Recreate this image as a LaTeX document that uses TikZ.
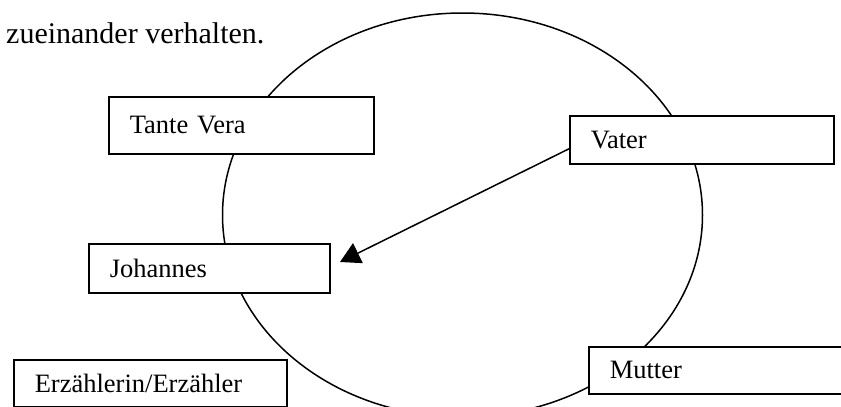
\documentclass[tikz,border=0pt]{standalone}
\usepackage{fontspec}
\setmainfont{Liberation Serif}
\usetikzlibrary{arrows.meta}
\tikzset{
  rolle/.style={draw, fill=white, line width=1.6pt, anchor=north west, inner xsep=21pt, inner ysep=0pt, align=left, font=\fontsize{26.5}{31}\selectfont},
}
\begin{document}
\begin{tikzpicture}[x=1pt,y=-1pt]
\useasboundingbox (0,0) rectangle (841,407);

%Shape: Ellipse
\draw [line width=1.5pt] (462.5,215) ellipse [x radius=240pt, y radius=202pt];

% Text Node
\node [anchor=base west, inner sep=0pt, font=\fontsize{30}{36}\selectfont] (satz) at (6,43) {zueinander verhalten.};
% Text Node
\node [rolle, text width=223pt, minimum height=57pt] (tante) at (108,96) {Tante Vera};
% Text Node
\node [rolle, text width=222pt, minimum height=48pt] (vater) at (569,115) {Vater};
% Text Node
\node [rolle, text width=199pt, minimum height=49pt] (johannes) at (88,243) {Johannes};
% Text Node
\node [rolle, text width=240pt, minimum height=47pt] (mutter) at (588,346) {Mutter};
% Text Node
\node [rolle, text width=231pt, minimum height=47pt] (erzaehler) at (13,359) {Erzählerin/Erzähler};

%Straight Lines
\coordinate (spitze) at (340,262);
\draw [line width=1.5pt, -{Triangle[length=20pt,width=22pt]}] ([yshift=-9pt]vater.west) -- (spitze);

\end{tikzpicture}
\end{document}
